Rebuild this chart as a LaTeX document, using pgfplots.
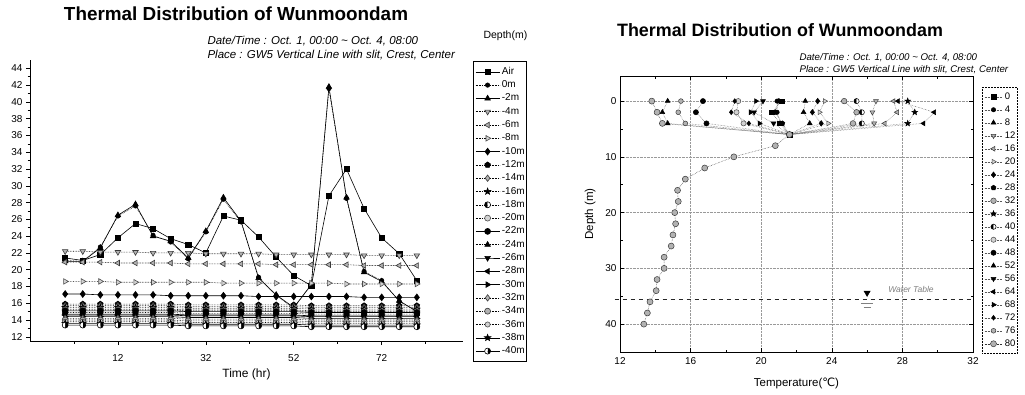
\documentclass[border=0pt]{standalone}
\usepackage{fontspec}
\setmainfont{Liberation Sans}
\newfontfamily\dejavu{DejaVu Sans}
\usepackage{pgfplots}
\usepackage{pgfplotstable}
\pgfplotsset{compat=1.18}
\usetikzlibrary{plotmarks}

\pgfdeclareplotmark{fstar}{%
  \pgfpathmoveto{\pgfpointpolar{90}{\pgfplotmarksize}}%
  \pgfpathlineto{\pgfpointpolar{126}{0.42\pgfplotmarksize}}%
  \pgfpathlineto{\pgfpointpolar{162}{\pgfplotmarksize}}%
  \pgfpathlineto{\pgfpointpolar{198}{0.42\pgfplotmarksize}}%
  \pgfpathlineto{\pgfpointpolar{234}{\pgfplotmarksize}}%
  \pgfpathlineto{\pgfpointpolar{270}{0.42\pgfplotmarksize}}%
  \pgfpathlineto{\pgfpointpolar{306}{\pgfplotmarksize}}%
  \pgfpathlineto{\pgfpointpolar{342}{0.42\pgfplotmarksize}}%
  \pgfpathlineto{\pgfpointpolar{18}{\pgfplotmarksize}}%
  \pgfpathlineto{\pgfpointpolar{54}{0.42\pgfplotmarksize}}%
  \pgfpathclose\pgfusepathqfillstroke}

\pgfplotstableread{
t air d0 d2 d4 d6 d8 d10 d12 d14 d16 d18 d20 d22 d24 d26 d28 d30 d32 d34 d36 d38 d40
0 21.4 21.1 21.0 22.2 20.9 18.6 17.1 15.9 15.7 15.5 15.3 15.2 15.1 14.9 14.7 14.6 14.4 14.2 14.0 13.8 13.6 13.4
4 21.1 21.0 21.0 22.2 20.9 18.6 17.1 15.9 15.7 15.5 15.3 15.2 15.1 14.9 14.7 14.6 14.4 14.2 14.0 13.8 13.6 13.4
8 21.8 22.7 22.6 22.1 20.9 18.6 17.0 15.9 15.7 15.5 15.3 15.2 15.1 14.9 14.7 14.6 14.4 14.2 14.0 13.8 13.6 13.4
12 23.8 26.4 26.5 22.1 20.8 18.5 17.0 15.9 15.7 15.5 15.3 15.2 15.1 14.9 14.7 14.6 14.4 14.2 14.0 13.8 13.6 13.4
16 25.5 27.6 27.8 22.1 20.8 18.5 17.0 15.9 15.7 15.5 15.3 15.2 15.1 14.9 14.7 14.6 14.4 14.2 14.0 13.8 13.6 13.4
20 24.9 24.1 24.0 22.0 20.8 18.5 17.0 15.9 15.7 15.5 15.3 15.2 15.1 14.9 14.7 14.6 14.4 14.2 14.0 13.8 13.6 13.4
24 23.7 23.3 23.4 22.0 20.8 18.5 16.9 15.9 15.7 15.5 15.3 15.2 15.1 14.9 14.7 14.6 14.4 14.2 14.0 13.8 13.6 13.4
28 23.0 21.3 21.4 22.0 20.7 18.5 16.9 15.8 15.6 15.4 15.2 15.1 15.0 14.8 14.6 14.5 14.3 14.1 13.9 13.7 13.5 13.3
32 22.0 24.5 24.6 21.9 20.7 18.5 16.9 15.8 15.6 15.4 15.2 15.1 15.0 14.8 14.6 14.5 14.3 14.1 13.9 13.7 13.5 13.3
36 26.4 28.4 28.6 21.9 20.7 18.4 16.9 15.8 15.6 15.4 15.2 15.1 15.0 14.8 14.6 14.5 14.3 14.1 13.9 13.7 13.5 13.3
40 25.9 25.7 25.8 21.9 20.7 18.4 16.9 15.8 15.6 15.4 15.2 15.1 15.0 14.8 14.6 14.5 14.3 14.1 13.9 13.7 13.5 13.3
44 23.9 19.1 19.0 21.9 20.7 18.4 16.8 15.8 15.6 15.4 15.2 15.1 15.0 14.8 14.6 14.5 14.3 14.1 13.9 13.7 13.5 13.3
48 21.5 16.9 17.0 21.8 20.6 18.4 16.8 15.8 15.6 15.4 15.2 15.1 15.0 14.8 14.6 14.5 14.3 14.1 13.9 13.7 13.5 13.3
52 19.3 15.4 15.5 21.8 20.6 18.4 16.8 15.8 15.6 15.4 15.2 15.1 15.0 14.8 14.6 14.5 14.3 14.1 13.9 13.7 13.5 13.3
56 18.1 18.3 18.2 21.8 20.6 18.4 16.8 15.7 15.5 15.3 15.1 15.0 14.9 14.7 14.5 14.4 14.2 14.0 13.8 13.6 13.4 13.2
60 28.8 41.6 41.8 21.8 20.6 18.4 16.8 15.7 15.5 15.3 15.1 15.0 14.9 14.7 14.5 14.4 14.2 14.0 13.8 13.6 13.4 13.2
64 32.0 28.5 28.6 21.8 20.6 18.3 16.8 15.7 15.5 15.3 15.1 15.0 14.9 14.7 14.5 14.4 14.2 14.0 13.8 13.6 13.4 13.2
68 27.3 19.8 19.7 21.7 20.5 18.3 16.7 15.7 15.5 15.3 15.1 15.0 14.9 14.7 14.5 14.4 14.2 14.0 13.8 13.6 13.4 13.2
72 23.8 18.7 18.6 21.7 20.5 18.3 16.7 15.7 15.5 15.3 15.1 15.0 14.9 14.7 14.5 14.4 14.2 14.0 13.8 13.6 13.4 13.2
76 21.9 16.2 16.3 21.7 20.5 18.3 16.7 15.7 15.5 15.3 15.1 15.0 14.9 14.7 14.5 14.4 14.2 14.0 13.8 13.6 13.4 13.2
80 18.7 15.1 15.0 21.7 20.5 18.3 16.7 15.7 15.5 15.3 15.1 15.0 14.9 14.7 14.5 14.4 14.2 14.0 13.8 13.6 13.4 13.2
}\Ltab

\tikzset{
  sl/.style={black, line width=0.6pt, solid},
  dl/.style={black, line width=0.6pt, densely dotted},
  bm/.style={solid, draw=black, fill=black},
  gm/.style={solid, draw=gray!45!black, fill=gray!60},
  lm/.style={solid, draw=gray!60!black, fill=gray!35},
}

\begin{document}
\begin{tikzpicture}
\useasboundingbox (0,0) rectangle (1025pt,394pt);

% ---------------- left panel ----------------
\begin{axis}[
  at={(30pt,53pt)}, anchor=south west, scale only axis,
  width=433pt, height=281pt,
  xmin=-8, xmax=90.5, ymin=11.5, ymax=45,
  axis x line=bottom, axis y line=left,
  axis line style={-, line width=0.8pt},
  xtick={12,32,52,72}, minor xtick={2,22,42,62,82},
  ytick={12,14,...,44}, minor y tick num=1,
  tick align=outside, major tick length=4pt, minor tick length=2.5pt,
  tick style={black, line width=0.6pt},
  ticklabel style={font=\fontsize{10}{12}\selectfont},
  xticklabel style={yshift=-6pt},
  /pgf/number format/assume math mode=true,
  xlabel={Time (hr)},
  xlabel style={font=\fontsize{12}{14}\selectfont, yshift=0pt},
  clip=false,
  legend style={at={(1,1)}, anchor=north west, xshift=10pt, yshift=-1pt,
    draw=black, line width=0.6pt, font=\fontsize{10}{12}\selectfont,
    nodes={inner sep=0pt, text height=7pt, text depth=2pt, anchor=west},
    row sep=4.3pt, column sep=2pt, inner xsep=2pt, inner ysep=6pt},
  legend cell align=left,
  legend image code/.code={\draw[mark repeat=2,mark phase=2] plot coordinates {(0pt,0pt) (12pt,0pt) (24pt,0pt)};},
]
\addplot[sl, mark=square*, mark size=2.6pt, mark options={bm}] table[x=t,y=air]{\Ltab};
\addplot[dl, mark=*, mark size=2.2pt, mark options={bm}] table[x=t,y=d0]{\Ltab};
\addplot[sl, mark=triangle*, mark size=3.2pt, mark options={bm}] table[x=t,y=d2]{\Ltab};
\addplot[dl, mark=triangle*, mark size=3.2pt, mark options={gm, rotate=180}] table[x=t,y=d4]{\Ltab};
\addplot[dl, mark=triangle*, mark size=3.2pt, mark options={gm, rotate=90}] table[x=t,y=d6]{\Ltab};
\addplot[dl, mark=triangle*, mark size=3.2pt, mark options={lm, rotate=270}] table[x=t,y=d8]{\Ltab};
\addplot[sl, mark=diamond*, mark size=3.4pt, mark options={bm}] table[x=t,y=d10]{\Ltab};
\addplot[dl, mark=pentagon*, mark size=3pt, mark options={bm}] table[x=t,y=d12]{\Ltab};
\addplot[dl, mark=diamond*, mark size=3.2pt, mark options={gm}] table[x=t,y=d14]{\Ltab};
\addplot[dl, mark=fstar, mark size=3.4pt, mark options={bm}] table[x=t,y=d16]{\Ltab};
\addplot[dl, mark=halfcircle*, mark size=3pt, mark options={solid, draw=black, fill=black, rotate=90}] table[x=t,y=d18]{\Ltab};
\addplot[dl, mark=*, mark size=3pt, mark options={lm}] table[x=t,y=d20]{\Ltab};
\addplot[sl, mark=*, mark size=3pt, mark options={bm}] table[x=t,y=d22]{\Ltab};
\addplot[dl, mark=triangle*, mark size=3.2pt, mark options={bm}] table[x=t,y=d24]{\Ltab};
\addplot[sl, mark=triangle*, mark size=3.2pt, mark options={bm, rotate=180}] table[x=t,y=d26]{\Ltab};
\addplot[sl, mark=triangle*, mark size=3.2pt, mark options={bm, rotate=90}] table[x=t,y=d28]{\Ltab};
\addplot[sl, mark=triangle*, mark size=3.2pt, mark options={bm, rotate=270}] table[x=t,y=d30]{\Ltab};
\addplot[dl, mark=diamond*, mark size=3.2pt, mark options={gm}] table[x=t,y=d32]{\Ltab};
\addplot[dl, mark=*, mark size=3pt, mark options={gm}] table[x=t,y=d34]{\Ltab};
\addplot[dl, mark=*, mark size=2.6pt, mark options={lm}] table[x=t,y=d36]{\Ltab};
\addplot[sl, mark=fstar, mark size=3.4pt, mark options={bm}] table[x=t,y=d38]{\Ltab};
\addplot[sl, mark=halfcircle*, mark size=3pt, mark options={solid, draw=black, fill=black, rotate=270}] table[x=t,y=d40]{\Ltab};
\legend{Air,0m,-2m,-4m,-6m,-8m,-10m,-12m,-14m,-16m,-18m,-20m,-22m,-24m,-26m,-28m,-30m,-32m,-34m,-36m,-38m,-40m}
\end{axis}

\node[font=\fontsize{18.9}{20}\selectfont\bfseries] at (236pt,380pt) {Thermal Distribution of Wunmoondam};
\node[anchor=west, font=\fontsize{11.5}{13}\selectfont\itshape] at (204pt,353pt) {Date/Time : Oct. 1, 00:00 {\char"7E} Oct. 4, 08:00};
\node[anchor=west, font=\fontsize{11.5}{13}\selectfont\itshape] at (204pt,339pt) {Place : GW5 Vertical Line with slit, Crest, Center};
\node[anchor=west, font=\fontsize{10.5}{12}\selectfont] at (480pt,358pt) {Depth(m)};

% ---------------- right panel ----------------
\begin{axis}[
  at={(620pt,42pt)}, anchor=south west, scale only axis,
  width=353pt, height=276pt,
  xmin=12, xmax=32, ymin=-4.5, ymax=45, y dir=reverse,
  xtick={12,16,...,32}, minor x tick num=1,
  ytick={0,10,...,40}, minor ytick={5,15,25,35},
  grid=major, grid style={densely dotted, gray!80, line width=0.5pt},
  tick align=inside, major tick length=4pt, minor tick length=2.5pt,
  tick style={black, line width=0.6pt},
  axis line style={line width=0.8pt},
  ticklabel style={font=\fontsize{10}{12}\selectfont},
  xticklabel style={yshift=-2pt},
  /pgf/number format/assume math mode=true,
  xlabel={Temperature({\dejavu ℃})},
  xlabel style={font=\fontsize{11.5}{13}\selectfont, yshift=-6pt},
  ylabel={Depth (m)},
  ylabel style={font=\fontsize{11.5}{13}\selectfont, yshift=3pt},
  clip=false,
  legend style={at={(1,1)}, anchor=north west, xshift=9pt, yshift=-11pt,
    draw=black, densely dotted, line width=0.5pt, font=\fontsize{9.5}{11}\selectfont,
    nodes={inner sep=0pt, text height=7pt, text depth=2pt, anchor=west},
    row sep=4pt, column sep=2pt, inner xsep=2pt, inner ysep=5pt},
  legend cell align=left,
  legend image code/.code={\draw[mark repeat=2,mark phase=2] plot coordinates {(0pt,0pt) (9pt,0pt) (18pt,0pt)};},
  every axis plot/.append style={gray!70!black, densely dotted, line width=0.5pt},
]
\addplot[mark=square*, mark size=2.3pt, mark options={bm}] coordinates {(21.15,0) (20.6,2) (21.05,4) (21.6,6)};
\addplot[mark=*, mark size=2.2pt, mark options={bm}] coordinates {(20.9,0) (20.9,2) (21.1,4) (21.6,6)};
\addplot[mark=triangle*, mark size=2.8pt, mark options={bm}] coordinates {(22.5,0) (22.4,2) (22.75,4) (21.6,6)};
\addplot[mark=triangle*, mark size=2.8pt, mark options={gm, rotate=180}] coordinates {(26.5,0) (26.3,2) (26.4,4) (21.6,6)};
\addplot[mark=triangle*, mark size=2.8pt, mark options={gm, rotate=90}] coordinates {(27.5,0) (27.7,2) (27.0,4) (21.6,6)};
\addplot[mark=triangle*, mark size=2.8pt, mark options={lm, rotate=270}] coordinates {(23.6,0) (23.3,2) (23.8,4) (21.6,6)};
\addplot[mark=diamond*, mark size=2.8pt, mark options={bm}] coordinates {(23.2,0) (22.9,2) (23.4,4) (21.6,6)};
\addplot[mark=pentagon*, mark size=2.6pt, mark options={bm}] coordinates {(21.0,0) (20.8,2) (21.2,4) (21.6,6)};
\addplot[mark=*, mark size=2.8pt, mark options={gm}] coordinates {(24.7,0) (25.4,2) (25.2,4) (21.6,6)};
\addplot[mark=fstar, mark size=3pt, mark options={bm}] coordinates {(28.3,0) (28.7,2) (28.3,4) (21.6,6)};
\addplot[mark=halfcircle*, mark size=2.6pt, mark options={solid, draw=black, fill=black, rotate=90}] coordinates {(25.4,0) (25.7,2) (25.7,4) (21.6,6)};
\addplot[mark=*, mark size=2.6pt, mark options={lm}] coordinates {(18.7,0) (18.6,2) (19.0,4) (21.6,6)};
\addplot[mark=*, mark size=2.6pt, mark options={bm}] coordinates {(16.7,0) (16.3,2) (16.9,4) (21.6,6)};
\addplot[mark=triangle*, mark size=2.8pt, mark options={bm}] coordinates {(14.7,0) (14.4,2) (14.7,4) (21.6,6)};
\addplot[mark=triangle*, mark size=2.8pt, mark options={bm, rotate=180}] coordinates {(20.1,0) (19.6,2) (20.7,4) (21.6,6)};
\addplot[mark=triangle*, mark size=2.8pt, mark options={bm, rotate=90}] coordinates {(27.75,0) (29.8,2) (29.2,4) (21.6,6)};
\addplot[mark=triangle*, mark size=2.8pt, mark options={bm, rotate=270}] coordinates {(19.7,0) (19.4,2) (19.9,4) (21.6,6)};
\addplot[mark=diamond*, mark size=2.4pt, mark options={bm}] coordinates {(18.5,0) (18.3,2) (19.3,4) (21.6,6)};
\addplot[mark=*, mark size=2.4pt, mark options={gm}] coordinates {(15.45,0) (15.3,2) (15.7,4) (21.6,6)};
\addplot[gray!40!black, mark=*, mark size=3pt, mark options={gm}] coordinates {(13.8,0) (14.1,2) (14.4,4) (21.6,6) (20.8,8) (18.45,10) (16.8,12) (15.7,14) (15.26,16) (15.3,18) (15.1,20) (15.15,22) (15.0,24) (14.9,26) (14.5,28) (14.5,30) (14.1,32) (14.05,34) (13.7,36) (13.55,38) (13.35,40)};
\legend{0,4,8,12,16,20,24,28,32,36,40,44,48,52,56,64,68,72,76,80}
% water table
\addplot[forget plot, solid, black!85, line width=0.8pt, dash pattern=on 4pt off 4pt] coordinates {(11.7,35.6) (32,35.6)};
\addplot[forget plot, only marks, mark=triangle*, mark size=3.5pt, mark options={bm, rotate=180}] coordinates {(26,34.4)};
\addplot[forget plot, solid, gray, line width=0.6pt] coordinates {(25.65,36.2) (26.35,36.2)};
\addplot[forget plot, solid, gray, line width=0.6pt] coordinates {(25.8,36.9) (26.2,36.9)};
\node[anchor=west, font=\fontsize{8.5}{10}\selectfont\itshape, text=gray] at (axis cs:27,33.7) {Water Table};
\end{axis}

\node[font=\fontsize{17.9}{19}\selectfont\bfseries] at (780pt,364pt) {Thermal Distribution of Wunmoondam};
\node[anchor=west, font=\fontsize{9.7}{12}\selectfont\itshape] at (796pt,336pt) {Date/Time : Oct. 1, 00:00 {\char"7E} Oct. 4, 08:00};
\node[anchor=west, font=\fontsize{9.7}{12}\selectfont\itshape] at (796pt,324pt) {Place : GW5 Vertical Line with slit, Crest, Center};
\end{tikzpicture}
\end{document}
